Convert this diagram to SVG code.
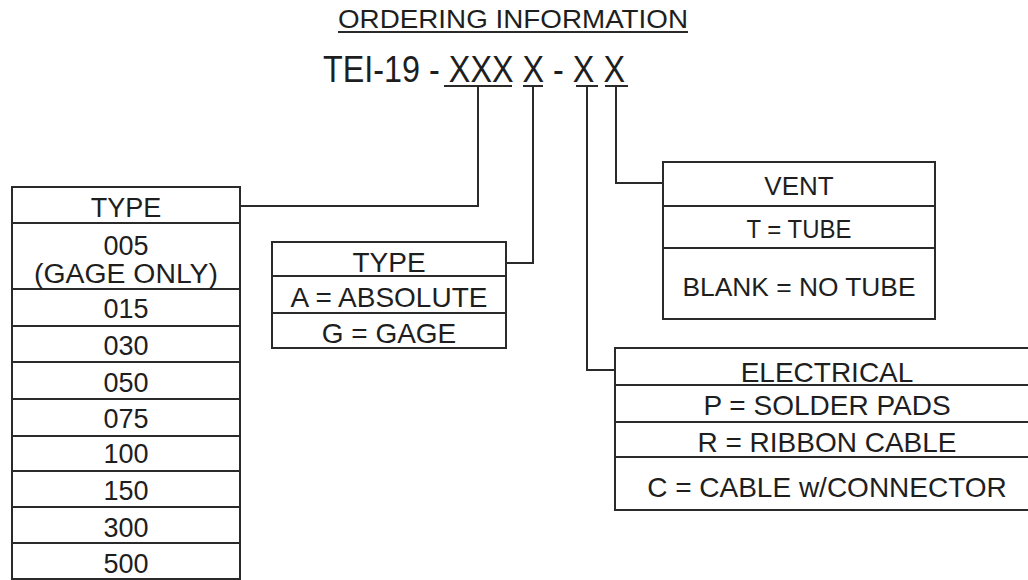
<svg xmlns="http://www.w3.org/2000/svg" width="1028" height="580" viewBox="0 0 1028 580">
<style>
.t{font-family:"Liberation Sans",Arial,sans-serif;fill:#1e1e1e;text-anchor:middle}
.box{fill:#fff;stroke:#2a2a2a;stroke-width:2}
.ln{fill:none;stroke:#2a2a2a;stroke-width:2}
</style>
<rect width="1028" height="580" fill="#fff"/>
<g id="title">
<text class="t" x="513" y="28" font-size="25" textLength="350" lengthAdjust="spacingAndGlyphs">ORDERING INFORMATION</text>
<line class="ln" x1="338" y1="32" x2="688" y2="32" stroke-width="1.6"/>
</g>
<g id="partnumber">
<text class="t" x="474" y="82" font-size="36" textLength="302" lengthAdjust="spacingAndGlyphs">TEI-19 - XXX X - X X</text>
<line class="ln" x1="444" y1="86" x2="512" y2="86"/>
<line class="ln" x1="523" y1="86" x2="543" y2="86"/>
<line class="ln" x1="576" y1="86" x2="598" y2="86"/>
<line class="ln" x1="605" y1="86" x2="628" y2="86"/>
</g>
<g id="connectors">
<polyline class="ln" points="478,86 478,206 240,206"/>
<polyline class="ln" points="533,86 533,263 506,263"/>
<polyline class="ln" points="587,86 587,370 615,370"/>
<polyline class="ln" points="616,86 616,183 663,183"/>
</g>
<g id="type-range">
<rect class="box" x="12" y="187" width="228" height="392"/>
<path class="ln" d="M12 223H240M12 289H240M12 326H240M12 362H240M12 399H240M12 436H240M12 471H240M12 507H240M12 543H240"/>
<g font-size="27">
<text class="t" x="126" y="217">TYPE</text>
<text class="t" x="126" y="255">005</text>
<text class="t" x="126" y="283" textLength="184" lengthAdjust="spacingAndGlyphs">(GAGE ONLY)</text>
<text class="t" x="126" y="318">015</text>
<text class="t" x="126" y="355">030</text>
<text class="t" x="126" y="392">050</text>
<text class="t" x="126" y="428">075</text>
<text class="t" x="126" y="463">100</text>
<text class="t" x="126" y="500">150</text>
<text class="t" x="126" y="537">300</text>
<text class="t" x="126" y="573">500</text>
</g>
</g>
<g id="type-pressure">
<rect class="box" x="272" y="242" width="234" height="106"/>
<path class="ln" d="M272 276H506M272 313H506"/>
<g font-size="28">
<text class="t" x="389" y="272">TYPE</text>
<text class="t" x="389" y="307">A = ABSOLUTE</text>
<text class="t" x="389" y="343">G = GAGE</text>
</g>
</g>
<g id="vent">
<rect class="box" x="663" y="162" width="272" height="157"/>
<path class="ln" d="M663 206H935M663 248H935"/>
<g font-size="26">
<text class="t" x="799" y="195">VENT</text>
<text class="t" x="799" y="238" textLength="105" lengthAdjust="spacingAndGlyphs">T = TUBE</text>
<text class="t" x="799" y="296" textLength="233" lengthAdjust="spacingAndGlyphs">BLANK = NO TUBE</text>
</g>
</g>
<g id="electrical">
<rect class="box" x="615" y="348" width="425" height="162"/>
<path class="ln" d="M615 385H1040M615 422H1040M615 457H1040"/>
<g font-size="28">
<text class="t" x="827" y="382">ELECTRICAL</text>
<text class="t" x="827" y="415">P = SOLDER PADS</text>
<text class="t" x="827" y="452">R = RIBBON CABLE</text>
<text class="t" x="827" y="497">C = CABLE w/CONNECTOR</text>
</g>
</g>
</svg>
